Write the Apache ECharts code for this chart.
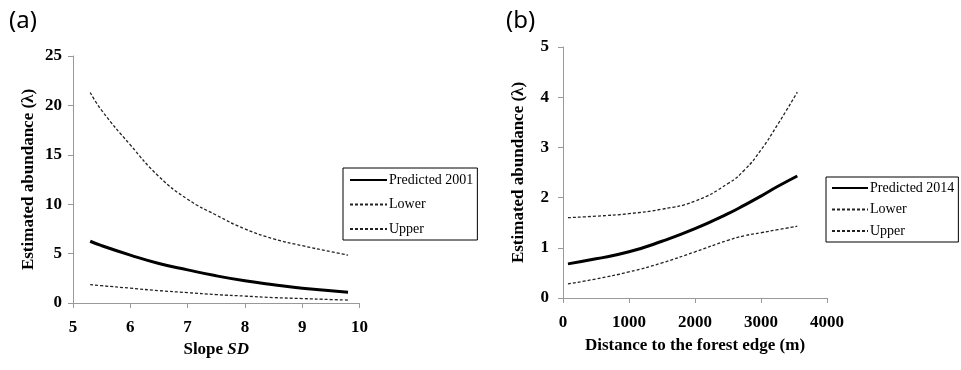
<!DOCTYPE html>
<html>
<head>
<meta charset="utf-8">
<script src="https://cdn.jsdelivr.net/npm/echarts@6/dist/echarts.min.js"></script>
<style>html,body{margin:0;padding:0;background:#fff}#c{width:961px;height:370px}</style>
</head>
<body>
<div id="c"></div>
<script>
// Panel (a)
const slopeSD = [5.3, 5.5, 6, 6.5, 7, 7.5, 8, 8.5, 9, 9.5, 9.8];
const predicted2001 = [6.25, 5.8, 4.85, 4.0, 3.35, 2.75, 2.25, 1.85, 1.5, 1.25, 1.1];
const lowerA = [1.85, 1.75, 1.5, 1.25, 1.05, 0.85, 0.7, 0.55, 0.45, 0.35, 0.3];
const upperA = [21.3, 19.5, 16.0, 12.8, 10.5, 8.9, 7.5, 6.5, 5.8, 5.2, 4.85];
// Panel (b)
const distance = [75, 500, 1000, 1500, 2000, 2500, 2750, 3000, 3250, 3550];
const predicted2014 = [0.68, 0.78, 0.92, 1.13, 1.38, 1.68, 1.85, 2.03, 2.22, 2.43];
const lowerB = [0.28, 0.38, 0.52, 0.70, 0.92, 1.15, 1.24, 1.30, 1.36, 1.43];
const upperB = [1.6, 1.63, 1.68, 1.77, 1.93, 2.28, 2.55, 2.95, 3.45, 4.1];

const serif = '"Liberation Serif", "Times New Roman", serif';
const pair = (xs, ys) => xs.map((x, i) => [x, ys[i]]);

function axisCommon(margin) {
  return {
    axisLine: { show: true, lineStyle: { color: '#999', width: 1 } },
    axisTick: { show: true, length: 5, lineStyle: { color: '#999' } },
    axisLabel: { color: '#000', fontFamily: serif, fontWeight: 'bold', fontSize: 17, margin: margin,
      formatter: v => String(v) },
    splitLine: { show: false },
    nameTextStyle: { color: '#000', fontFamily: serif, fontWeight: 'bold', fontSize: 17 }
  };
}

const solid = { color: '#000', width: 3 };
const dashed = { color: '#222', width: 1.3, type: [3, 2] };

const legendCommon = {
  orient: 'vertical', borderColor: '#000', borderWidth: 1, selectedMode: false,
  itemStyle: { opacity: 0 },
  textStyle: { fontFamily: serif, fontSize: 14, color: '#000', padding: [0, 0, 0, -3] }
};

const chart = echarts.init(document.getElementById('c'));
chart.setOption({
  animation: false,
  graphic: [
    { type: 'text', left: 9, top: 9, style: { text: '(a)', font: '24px "Noto Sans", sans-serif', fill: '#000' } },
    { type: 'text', left: 506, top: 9, style: { text: '(b)', font: '24px "Noto Sans", sans-serif', fill: '#000' } }
  ],
  grid: [
    { left: 73, top: 56, width: 286.5, height: 247 },
    { left: 563, top: 47, width: 264, height: 251 }
  ],
  xAxis: [
    Object.assign(axisCommon(16), { gridIndex: 0, type: 'value', min: 5, max: 10, interval: 1,
      name: '{n|Slope }{i|SD}', nameLocation: 'middle', nameGap: 35,
      nameTextStyle: { color: '#000', fontFamily: serif, fontWeight: 'bold', fontSize: 17,
        rich: { n: { fontFamily: serif, fontWeight: 'bold', fontSize: 17, color: '#000' },
                i: { fontFamily: serif, fontWeight: 'bold', fontStyle: 'italic', fontSize: 17, color: '#000' } } } }),
    Object.assign(axisCommon(16), { gridIndex: 1, type: 'value', min: 0, max: 4000, interval: 1000,
      name: 'Distance to the forest edge (m)', nameLocation: 'middle', nameGap: 39 })
  ],
  yAxis: [
    Object.assign(axisCommon(11), { gridIndex: 0, type: 'value', min: 0, max: 25, interval: 5,
      name: 'Estimated abundance (λ)', nameLocation: 'middle', nameGap: 36 }),
    Object.assign(axisCommon(14), { gridIndex: 1, type: 'value', min: 0, max: 5, interval: 1,
      name: 'Estimated abundance (λ)', nameLocation: 'middle', nameGap: 36 })
  ],
  legend: [
    Object.assign({}, legendCommon, { data: ['Predicted 2001', 'Lower', 'Upper'], left: 343, top: 168,
      padding: [5, 4, 4, 6], itemWidth: 37, itemHeight: 14, itemGap: 10.5 }),
    Object.assign({}, legendCommon, { data: ['Predicted 2014', 'Lower ', 'Upper '], left: 826, top: 177,
      padding: [4, 4, 4, 5], itemWidth: 36, itemHeight: 14, itemGap: 7.5 })
  ],
  series: [
    { name: 'Predicted 2001', type: 'line', xAxisIndex: 0, yAxisIndex: 0, smooth: true, symbol: 'none', data: pair(slopeSD, predicted2001), lineStyle: solid, itemStyle: { color: '#000' } },
    { name: 'Lower', type: 'line', xAxisIndex: 0, yAxisIndex: 0, smooth: true, symbol: 'none', data: pair(slopeSD, lowerA), lineStyle: dashed, itemStyle: { color: '#222' } },
    { name: 'Upper', type: 'line', xAxisIndex: 0, yAxisIndex: 0, smooth: true, symbol: 'none', data: pair(slopeSD, upperA), lineStyle: dashed, itemStyle: { color: '#222' } },
    { name: 'Predicted 2014', type: 'line', xAxisIndex: 1, yAxisIndex: 1, smooth: true, symbol: 'none', data: pair(distance, predicted2014), lineStyle: solid, itemStyle: { color: '#000' } },
    { name: 'Lower ', type: 'line', xAxisIndex: 1, yAxisIndex: 1, smooth: true, symbol: 'none', data: pair(distance, lowerB), lineStyle: dashed, itemStyle: { color: '#222' } },
    { name: 'Upper ', type: 'line', xAxisIndex: 1, yAxisIndex: 1, smooth: true, symbol: 'none', data: pair(distance, upperB), lineStyle: dashed, itemStyle: { color: '#222' } }
  ]
});
</script>
</body>
</html>
